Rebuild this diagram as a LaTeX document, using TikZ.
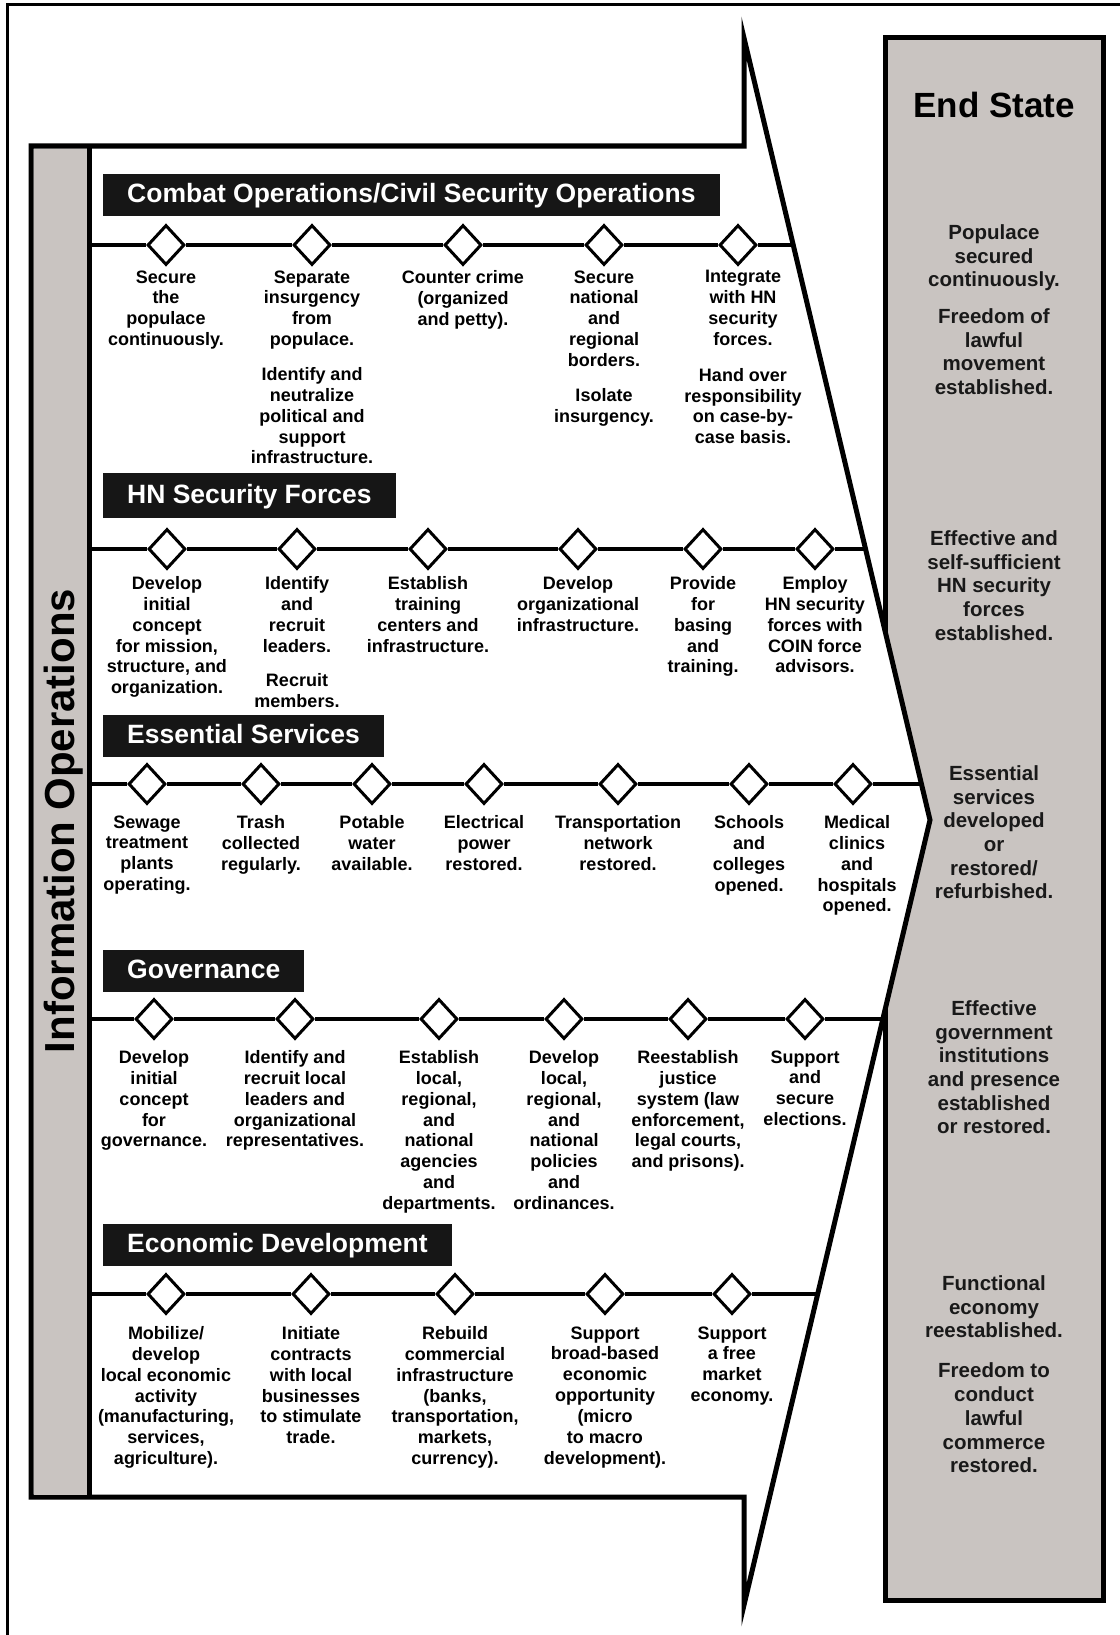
\documentclass[tikz,border=0pt]{standalone}
\usepackage{fontspec}
\setmainfont{Liberation Sans}
\usetikzlibrary{shapes.geometric}
\definecolor{stategray}{RGB}{201,196,193}
\definecolor{barblack}{RGB}{22,22,22}

\begin{document}
\begin{tikzpicture}[x=1pt, y=-1pt,
    milestone/.style={diamond, draw, fill=white, line width=3pt, minimum width=37pt, minimum height=40pt, inner sep=0pt},
    steptext/.style={align=center, anchor=north, inner sep=0pt, font=\fontsize{18}{20.85}\selectfont\bfseries},
    endtext/.style={align=center, anchor=north, inner sep=0pt, text=black!90, font=\fontsize{20.5}{23.7}\selectfont\bfseries},
    titlebar/.style={anchor=north west, fill=barblack, text=white, inner xsep=24pt, inner ysep=9pt, text height=19.5pt, text depth=4.5pt, font=\fontsize{26.5}{30}\selectfont\bfseries},
    rowline/.style={line width=4.5pt}]

    \useasboundingbox (0,0) rectangle (1119,1635);

    % Frame
    \draw[line width=3pt] (7,1640) -- (7,5) -- (1125,5);

    % End state box
    \node[draw, line width=5pt, fill=stategray, minimum width=218pt, minimum height=1562pt, inner sep=0pt] (endbox) at (994,819) {};

    % Arrow with information operations bar
    \draw[line width=5pt, fill=white, line join=miter] (31,146) -- (744,146) -- (744,38) -- (930,820) -- (744,1605) -- (744,1497) -- (31,1497) -- cycle;
    \fill[stategray] (33.5,148.5) rectangle (89,1494.5);
    \draw[line width=5pt] (89,146) -- (89,1497);
    \node[rotate=90, anchor=base, inner sep=0pt, font=\fontsize{42}{48}\selectfont\bfseries] (io) at (74,821) {Information Operations};

    % End state texts
    \node[anchor=base, inner sep=0pt, font=\fontsize{35}{40}\selectfont\bfseries] (es) at (994,117.5) {End State};
    \node[endtext] (es1) at (994,224.3) {Populace\\secured\\continuously.\\[13pt]Freedom of\\lawful\\movement\\established.};
    \node[endtext] (es2) at (994,530.3) {Effective and\\self-sufficient\\HN security\\forces\\established.};
    \node[endtext] (es3) at (994,765.3) {Essential\\services\\developed\\or\\restored/\\refurbished.};
    \node[endtext] (es4) at (994,1000.3) {Effective\\government\\institutions\\and presence\\established\\or restored.};
    \node[endtext] (es5) at (994,1275.3) {Functional\\economy\\reestablished.\\[16.5pt]Freedom to\\conduct\\lawful\\commerce\\restored.};

    % Combat operations/civil security operations
    \node[titlebar] (ct) at (103,174) {Combat Operations/Civil Security Operations};
    \coordinate (cl) at (89,245);
    \coordinate (cr) at (793,245);
    \node[milestone] (c1) at (166,245) {};
    \node[milestone] (c2) at (312,245) {};
    \node[milestone] (c3) at (463,245) {};
    \node[milestone] (c4) at (604,245) {};
    \node[milestone] (c5) at (738,245) {};
    \draw[rowline] (cl) -- (c1) -- (c2) -- (c3) -- (c4) -- (c5) -- (cr);
    \node[steptext] (ct1) at (166,270.3) {Secure\\the\\populace\\continuously.};
    \node[steptext] (ct2) at (312,270.3) {Separate\\insurgency\\from\\populace.\\[14pt]Identify and\\neutralize\\political and\\support\\infrastructure.};
    \node[steptext] (ct3) at (463,270.3) {Counter crime\\(organized\\and petty).};
    \node[steptext] (ct4) at (604,270.3) {Secure\\national\\and\\regional\\borders.\\[14pt]Isolate\\insurgency.};
    \node[steptext] (ct5) at (743,270.3) {Integrate\\with HN\\security\\forces.\\[15pt]Hand over\\responsibility\\on case-by-\\case basis.};

    % HN security forces
    \node[titlebar, minimum height=45pt] (ht) at (103,473) {HN Security Forces};
    \coordinate (hl) at (89,549);
    \coordinate (hr) at (865.5,549);
    \node[milestone] (h1) at (167,549) {};
    \node[milestone] (h2) at (297,549) {};
    \node[milestone] (h3) at (428,549) {};
    \node[milestone] (h4) at (578,549) {};
    \node[milestone] (h5) at (703,549) {};
    \node[milestone] (h6) at (815,549) {};
    \draw[rowline] (hl) -- (h1) -- (h2) -- (h3) -- (h4) -- (h5) -- (h6) -- (hr);
    \node[steptext] (ht1) at (167,576.3) {Develop\\initial\\concept\\for mission,\\structure, and\\organization.};
    \node[steptext] (ht2) at (297,576.3) {Identify\\and\\recruit\\leaders.\\[14pt]Recruit\\members.};
    \node[steptext] (ht3) at (428,576.3) {Establish\\training\\centers and\\infrastructure.};
    \node[steptext] (ht4) at (578,576.3) {Develop\\organizational\\infrastructure.};
    \node[steptext] (ht5) at (703,576.3) {Provide\\for\\basing\\and\\training.};
    \node[steptext] (ht6) at (815,576.3) {Employ\\HN security\\forces with\\COIN force\\advisors.};

    % Essential services
    \node[titlebar] (et) at (103,715) {Essential Services};
    \coordinate (el) at (89,784);
    \coordinate (er) at (921,784);
    \node[milestone] (e1) at (147,784) {};
    \node[milestone] (e2) at (261,784) {};
    \node[milestone] (e3) at (372,784) {};
    \node[milestone] (e4) at (484,784) {};
    \node[milestone] (e5) at (618,784) {};
    \node[milestone] (e6) at (749,784) {};
    \node[milestone] (e7) at (853,784) {};
    \draw[rowline] (el) -- (e1) -- (e2) -- (e3) -- (e4) -- (e5) -- (e6) -- (e7) -- (er);
    \node[steptext] (et1) at (147,815.3) {Sewage\\treatment\\plants\\operating.};
    \node[steptext] (et2) at (261,815.3) {Trash\\collected\\regularly.};
    \node[steptext] (et3) at (372,815.3) {Potable\\water\\available.};
    \node[steptext] (et4) at (484,815.3) {Electrical\\power\\restored.};
    \node[steptext] (et5) at (618,815.3) {Transportation\\network\\restored.};
    \node[steptext] (et6) at (749,815.3) {Schools\\and\\colleges\\opened.};
    \node[steptext] (et7) at (857,815.3) {Medical\\clinics\\and\\hospitals\\opened.};

    % Governance
    \node[titlebar] (gt) at (103,950) {Governance};
    \coordinate (gl) at (89,1019);
    \coordinate (gr) at (883,1019);
    \node[milestone] (g1) at (154,1019) {};
    \node[milestone] (g2) at (295,1019) {};
    \node[milestone] (g3) at (439,1019) {};
    \node[milestone] (g4) at (564,1019) {};
    \node[milestone] (g5) at (688,1019) {};
    \node[milestone] (g6) at (805,1019) {};
    \draw[rowline] (gl) -- (g1) -- (g2) -- (g3) -- (g4) -- (g5) -- (g6) -- (gr);
    \node[steptext] (gt1) at (154,1050.3) {Develop\\initial\\concept\\for\\governance.};
    \node[steptext] (gt2) at (295,1050.3) {Identify and\\recruit local\\leaders and\\organizational\\representatives.};
    \node[steptext] (gt3) at (439,1050.3) {Establish\\local,\\regional,\\and\\national\\agencies\\and\\departments.};
    \node[steptext] (gt4) at (564,1050.3) {Develop\\local,\\regional,\\and\\national\\policies\\and\\ordinances.};
    \node[steptext] (gt5) at (688,1050.3) {Reestablish\\justice\\system (law\\enforcement,\\legal courts,\\and prisons).};
    \node[steptext] (gt6) at (805,1050.3) {Support\\and\\secure\\elections.};

    % Economic development
    \node[titlebar] (dt) at (103,1224) {Economic Development};
    \coordinate (dl) at (89,1294);
    \coordinate (dr) at (817.7,1294);
    \node[milestone] (d1) at (166,1294) {};
    \node[milestone] (d2) at (311,1294) {};
    \node[milestone] (d3) at (455,1294) {};
    \node[milestone] (d4) at (605,1294) {};
    \node[milestone] (d5) at (732,1294) {};
    \draw[rowline] (dl) -- (d1) -- (d2) -- (d3) -- (d4) -- (d5) -- (dr);
    \node[steptext] (dt1) at (166,1326.3) {Mobilize/\\develop\\local economic\\activity\\(manufacturing,\\services,\\agriculture).};
    \node[steptext] (dt2) at (311,1326.3) {Initiate\\contracts\\with local\\businesses\\to stimulate\\trade.};
    \node[steptext] (dt3) at (455,1326.3) {Rebuild\\commercial\\infrastructure\\(banks,\\transportation,\\markets,\\currency).};
    \node[steptext] (dt4) at (605,1326.3) {Support\\broad-based\\economic\\opportunity\\(micro\\to macro\\development).};
    \node[steptext] (dt5) at (732,1326.3) {Support\\a free\\market\\economy.};
\end{tikzpicture}
\end{document}
